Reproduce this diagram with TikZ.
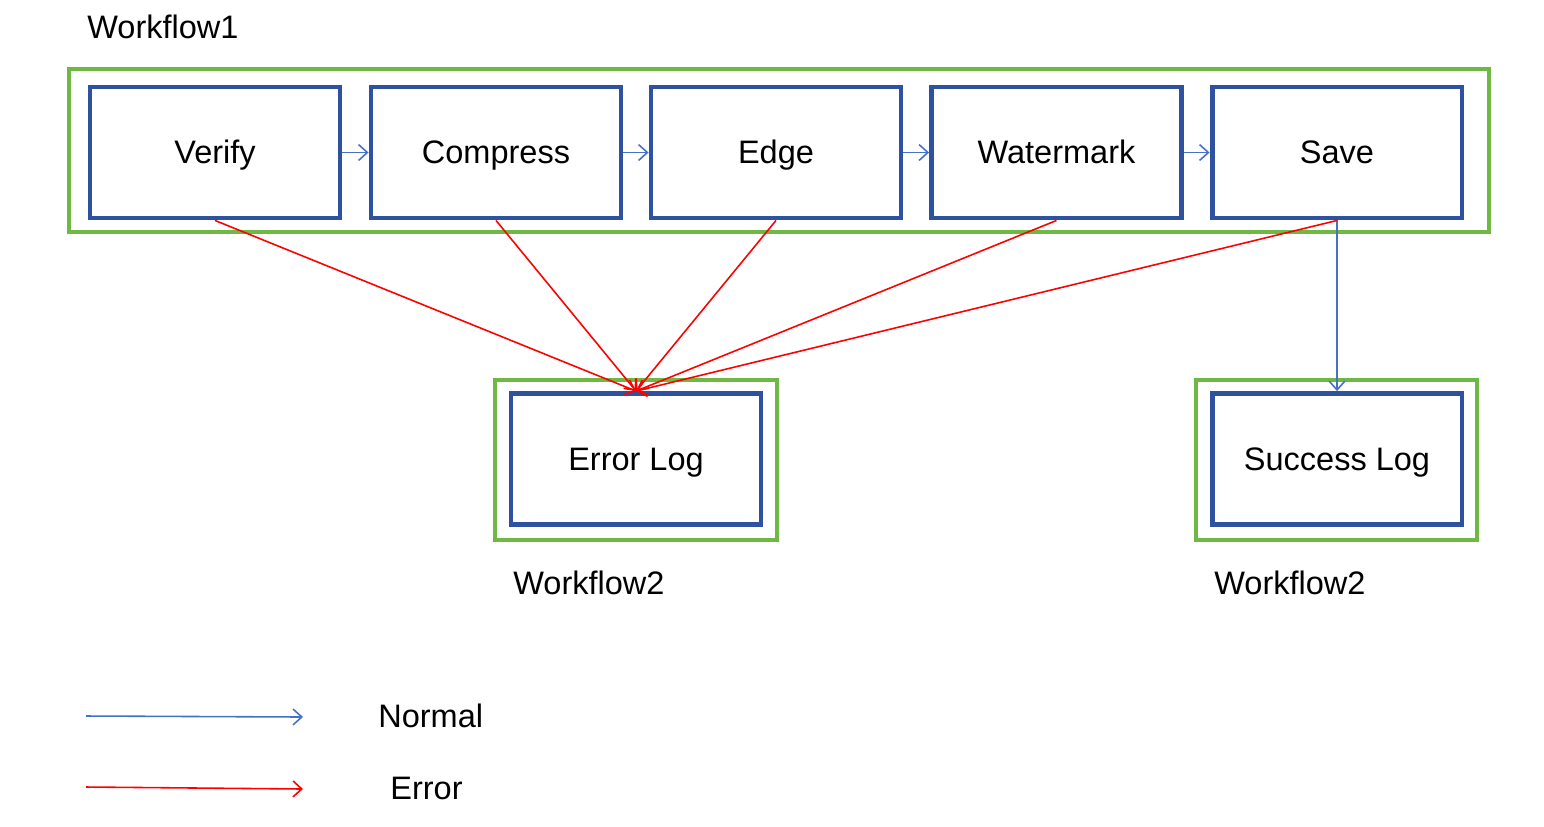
\documentclass[tikz,border=0pt]{standalone}
\usepackage{fontspec}
\setmainfont{Liberation Sans}
\usepackage{tikz}
\usetikzlibrary{arrows.meta}
\definecolor{boxblue}{RGB}{47,82,160}
\definecolor{wfgreen}{RGB}{112,184,68}
\definecolor{lineblue}{RGB}{68,114,196}
\tikzset{
	stepbox/.style={draw=boxblue, line width=2.8pt, minimum width=5cm, minimum height=2.62cm, text height=1.45em, text depth=0.184em, font=\fontsize{18.5}{22}\selectfont},
	wfbox/.style={draw=wfgreen, line width=2.8pt},
	wflabel/.style={anchor=west, inner sep=0pt, font=\fontsize{18.5}{22}\selectfont},
	normal/.style={->, color=lineblue, line width=0.9pt},
	error/.style={->, color=red, line width=0.9pt}
}

\begin{document}
\begin{tikzpicture}[x=0.02cm, y=-0.02cm, >={Straight Barb[length=5pt, width=9pt]}]
		\useasboundingbox (0,0) rectangle (1544,826);

		% workflow 1
		\node[wflabel] (wf1) at (87,27) {Workflow1};
		\draw[wfbox] (69,69) rectangle (1489,232);
		\node[stepbox] (verify) at (215,152.5) {Verify};
		\node[stepbox] (compress) at (496,152.5) {Compress};
		\node[stepbox] (edge) at (776,152.5) {Edge};
		\node[stepbox] (watermark) at (1056.5,152.5) {Watermark};
		\node[stepbox] (save) at (1337,152.5) {Save};

		% workflow 2
		\draw[wfbox] (495,380) rectangle (777,540);
		\node[stepbox] (errlog) at (636,459) {Error Log};
		\node[wflabel] (wf2a) at (513,583) {Workflow2};
		\draw[wfbox] (1196,380) rectangle (1477,540);
		\node[stepbox] (succlog) at (1337,459) {Success Log};
		\node[wflabel] (wf2b) at (1214,583) {Workflow2};

		\draw[normal] (verify) -- (compress);
		\draw[normal] (compress) -- (edge);
		\draw[normal] (edge) -- (watermark);
		\draw[normal] (watermark) -- (save);
		\draw[normal] (save.south) -- (succlog.north);

		\draw[error] (verify.south) -- (errlog.north);
		\draw[error] (compress.south) -- (errlog.north);
		\draw[error] (edge.south) -- (errlog.north);
		\draw[error] (watermark.south) -- (errlog.north);
		\draw[error] (save.south) -- (errlog.north);

		% legend
		\coordinate (n1) at (86,716);
		\coordinate (n2) at (303,717);
		\coordinate (e1) at (86,787);
		\coordinate (e2) at (303,789);
		\draw[normal] (n1) -- (n2);
		\draw[error] (e1) -- (e2);
		\node[wflabel] (normtxt) at (378,716) {Normal};
		\node[wflabel] (errtxt) at (390,788) {Error};
	\end{tikzpicture}
\end{document}
